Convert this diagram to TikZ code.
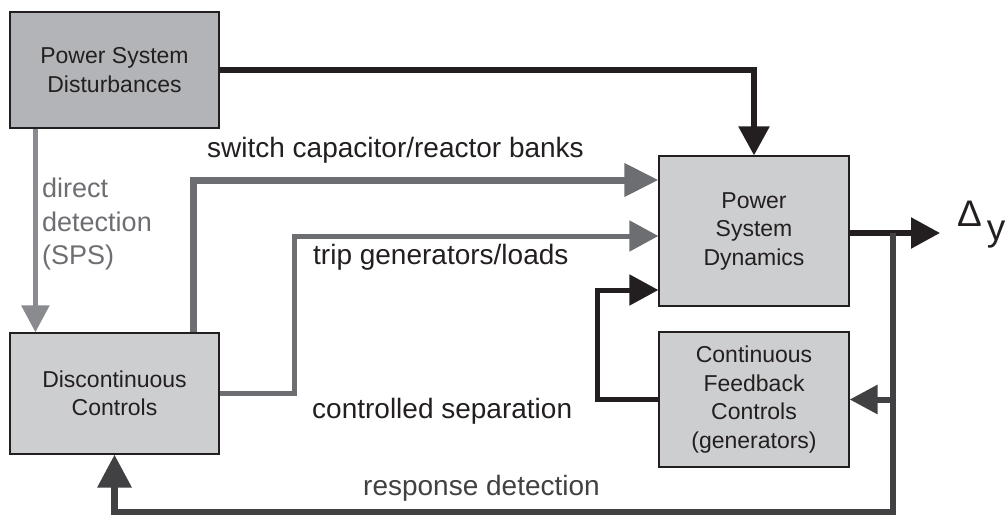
\documentclass[tikz,border=0pt]{standalone}
\usepackage{fontspec}
\setmainfont{Liberation Sans}
\usetikzlibrary{arrows.meta}
\definecolor{ink}{HTML}{231F20}
\definecolor{boxgray}{HTML}{CDCED0}
\definecolor{darkbox}{HTML}{B3B4B7}
\definecolor{midgray}{HTML}{6D6E71}
\definecolor{ddgray}{HTML}{8A8B8E}
\definecolor{fbgray}{HTML}{414042}

\begin{document}
\begin{tikzpicture}[x=1pt,y=-1pt,
    block/.style={draw=ink,line width=1.2pt,fill=boxgray,text=ink,align=center,inner sep=0pt,
      font=\fontsize{23}{28.5}\selectfont},
    lbl/.style={anchor=base west,inner sep=0pt,text=ink,font=\fontsize{28}{33.5}\selectfont},
    link/.style={line width=5.5pt},
    tip/.style={-{Triangle[length=29pt,width=30pt]}}]
      \useasboundingbox (0,0) rectangle (1008,516);
      \node[block,fill=darkbox,minimum width=209pt,minimum height=116pt] (psd) at (114.5,70) {Power System\\Disturbances};
      \node[block,minimum width=209pt,minimum height=121pt] (dc) at (114.5,393.5) {Discontinuous\\Controls};
      \node[block,minimum width=190pt,minimum height=150pt] (dyn) at (754,231) {Power\\System\\Dynamics};
      \node[block,minimum width=190pt,minimum height=135pt] (cfc) at (754,399.5) {Continuous\\Feedback\\Controls\\(generators)};
      \coordinate (out) at (940,233);
      \coordinate (fb) at (893,233);
      \draw[link,tip,ink] (psd.east) -| (dyn.north);
      \draw[link,ddgray,-{Triangle[length=27pt,width=27pt]}] ([xshift=26pt]psd.south west) -- ([xshift=26pt]dc.north west);
      \draw[link,line width=7pt,midgray,-{Triangle[length=34pt,width=32pt]}] ([xshift=-26pt]dc.north east) |- ([yshift=51pt]dyn.west);
      \draw[link,line width=5pt,midgray,tip] (dc.east) -- ++(75,0) |- ([yshift=-5pt]dyn.west);
      \draw[link,line width=5pt,ink,tip] (cfc.west) -- ++(-61,0) |- ([yshift=-59pt]dyn.west);
      \draw[link,ink,tip] ([yshift=-2pt]dyn.east) -- (out);
      \draw[link,line width=6.5pt,fbgray,-{Triangle[length=33pt,width=33pt]}] (fb) -- ++(0,279) -| (dc.south);
      \draw[link,line width=6pt,fbgray,-{Triangle[length=28pt,width=28pt]}] (fb |- cfc.east) -- (cfc.east);
      \node[lbl] (sw) at (207,157) {switch capacitor/reactor banks};
      \node[lbl] (trip) at (313,264) {trip generators/loads};
      \node[lbl] (sep) at (312,418) {controlled separation};
      \node[lbl,text=fbgray] (resp) at (363,495) {response detection};
      \node[lbl,anchor=north west,text=midgray,align=left,font=\fontsize{27}{33.5}\selectfont] (dd) at (42,178) {direct\\detection\\(SPS)};
      \node[anchor=base west,inner sep=0pt,text=ink] (dy) at (957,240)
        {\raisebox{14pt}{\fontsize{37}{37}\selectfont Δ}\hspace{5pt}\fontsize{37}{37}\selectfont y};
\end{tikzpicture}
\end{document}
